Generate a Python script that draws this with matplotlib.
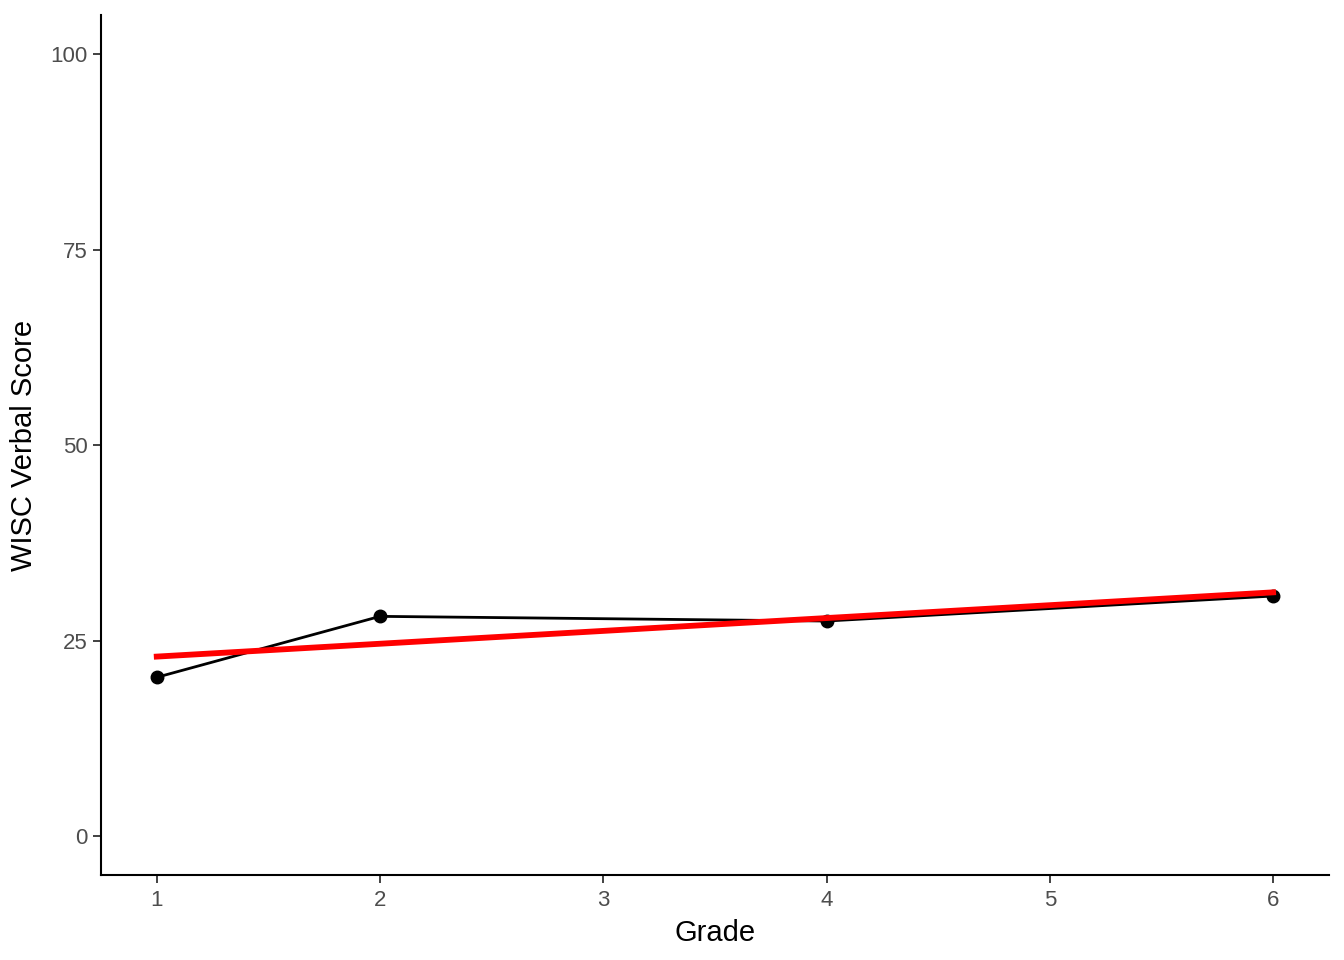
import numpy as np
import matplotlib
matplotlib.use("Agg")
import matplotlib.pyplot as plt

plt.rcParams['font.family'] = ['Liberation Sans', 'DejaVu Sans']

# mean WISC verbal score per grade
grades = [1, 2, 4, 6]
verbal = [20.3, 28.1, 27.5, 30.7]

x_ticks = [1, 2, 3, 4, 5, 6]
y_ticks = [0, 25, 50, 75, 100]

fig = plt.figure(figsize=(13.44, 9.6), dpi=100)
ax = fig.add_axes([0.0751, 0.0885, 0.9137, 0.8955])

ax.plot(grades, verbal, color="black", lw=2.0, zorder=2)
ax.plot(grades, verbal, "o", color="black", ms=9, zorder=3)

# linear fit
slope, intercept = np.polyfit(grades, verbal, 1)
xs = np.array([min(grades), max(grades)])
ax.plot(xs, intercept + slope * xs, color="#FF0000", lw=4.2, zorder=4)

ax.set_xlim(0.75, 6.25)
ax.set_ylim(-5, 105)
ax.set_xticks(x_ticks)
ax.set_yticks(y_ticks)

for s in ["top", "right"]:
    ax.spines[s].set_visible(False)
for s in ["left", "bottom"]:
    ax.spines[s].set_linewidth(1.5)
ax.tick_params(axis="both", labelsize=16, colors="#333333", length=5.5, width=1.3, labelcolor="#4D4D4D")
ax.tick_params(axis="x", pad=5)
ax.tick_params(axis="y", pad=4)

ax.set_xlabel("Grade", fontsize=21, labelpad=6)
ax.set_ylabel("WISC Verbal Score", fontsize=21, labelpad=9)

fig.savefig("out.png", dpi=100)
